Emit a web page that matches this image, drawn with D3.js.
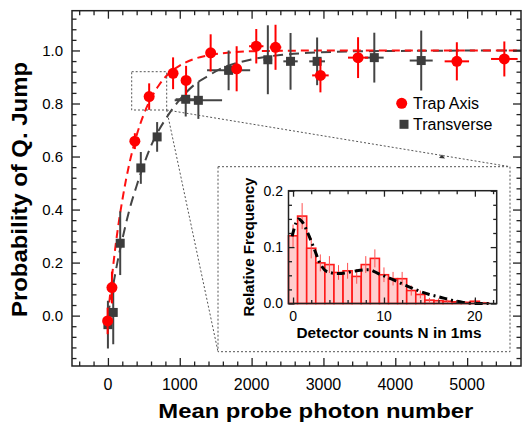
<!DOCTYPE html>
<meta charset="utf-8">
<head>
<script src="https://d3js.org/d3.v7.min.js"></script>
<style>
  body { margin: 0; background: #fff; }
  text { font-family: "Liberation Sans", Arial, sans-serif; fill: #000; }
</style>
</head>
<body>
<svg id="chart" width="524" height="426"></svg>
<script>

// ---- main plot data : probability of quantum jump vs mean probe photon number
var trapX    = [-4, 56, 375, 574, 907, 1088, 1430, 1792, 2065, 2333, 2958, 3482, 4857, 5518];
var trapY    = [-0.02, 0.106, 0.658, 0.826, 0.914, 0.887, 0.991, 0.931, 1.016, 1.012, 0.906, 0.973, 0.959, 0.968];
var trapErrY = [0.05, 0.06, 0.03, 0.05, 0.06, 0.055, 0.07, 0.085, 0.065, 0.085, 0.064, 0.077, 0.072, 0.066];
var trapErrX = [0, 20, 0, 0, 0, 0, 60, 0, 100, 80, 115, 140, 170, 185];

var transX    = [0, 74, 171, 458, 685, 1083, 1259, 1680, 2226, 2542, 2912, 3708, 4361];
var transY    = [-0.034, 0.012, 0.273, 0.557, 0.674, 0.816, 0.812, 0.925, 0.965, 0.959, 0.959, 0.973, 0.962];
var transErrY = [0.09, 0.12, 0.12, 0.06, 0.056, 0.065, 0.07, 0.075, 0.13, 0.107, 0.09, 0.094, 0.113];
var transErrX = [30, 20, 20, 30, 40, 140, 330, 300, 60, 100, 110, 130, 160];

// fit curves
var trapFitX  = [0, 50, 100, 150, 200, 250, 300, 400, 500, 600, 700, 800, 900, 1000, 1200, 1400, 1700, 2000, 2500, 3000, 4000, 5750];
var trapFitY  = [0, 0.13, 0.25, 0.35, 0.435, 0.51, 0.575, 0.68, 0.76, 0.82, 0.865, 0.9, 0.925, 0.943, 0.968, 0.982, 0.992, 0.997, 0.999, 1.0, 1.0, 1.0];
var transFitX = [0, 50, 100, 150, 200, 300, 400, 500, 600, 700, 800, 900, 1000, 1200, 1400, 1600, 1800, 2000, 2400, 2800, 3500, 4500, 5750];
var transFitY = [0, 0.08, 0.155, 0.225, 0.287, 0.4, 0.49, 0.57, 0.64, 0.695, 0.74, 0.78, 0.815, 0.87, 0.905, 0.935, 0.953, 0.966, 0.983, 0.991, 0.997, 0.999, 1.0];

var xTicks = [0, 1000, 2000, 3000, 4000, 5000];
var yTicks = [0.0, 0.2, 0.4, 0.6, 0.8, 1.0];

// ---- inset data : histogram of detector counts
var histN    = d3.range(0, 22);
var histFreq = [0.12, 0.155, 0.098, 0.072, 0.069, 0.055, 0.058, 0.048, 0.069, 0.08, 0.051, 0.044, 0.044, 0.023, 0.016, 0.006, 0.005, 0.004, 0.003, 0.002, 0.004, 0.001];
var histErr  = [0.02, 0.023, 0.018, 0.015, 0.015, 0.013, 0.014, 0.013, 0.015, 0.016, 0.013, 0.012, 0.012, 0.009, 0.007, 0.004, 0.004, 0.003, 0.003, 0.002, 0.003, 0.002];
var histFitX = [-0.1, 0.3, 0.6, 1.0, 1.7, 2.3, 3.0, 3.8, 5, 6, 7, 8.3, 9.5, 10.6, 12.4, 13.9, 15, 16, 17.4, 18.7, 20, 21.5];
var histFitY = [0.119, 0.142, 0.15, 0.145, 0.122, 0.098, 0.07, 0.056, 0.053, 0.055, 0.058, 0.06, 0.052, 0.045, 0.032, 0.022, 0.016, 0.012, 0.006, 0.002, 0.0, 0.0];
var insetXTicks = [0, 10, 20];
var insetYTicks = [0.0, 0.1, 0.2];

var svg = d3.select("#chart");
var AXIS = "#222";

// main scales
var x = d3.scaleLinear().domain([-500, 5750]).range([72, 521]);
var y = d3.scaleLinear().domain([-0.19, 1.15]).range([366, 10.7]);

// inset scales
var ix = d3.scaleLinear().domain([-0.5, 22.4]).range([288.5, 496.7]);
var iy = d3.scaleLinear().domain([0, 0.2]).range([303.5, 190.7]);

// draws inward ticks on all four sides plus a frame
function frame(xs, ys, xMaj, xMin, yMaj, yMin, big, small) {
  var g = svg.append("g");
  var x0 = xs.range()[0], x1 = xs.range()[1], y0 = ys.range()[0], y1 = ys.range()[1];

  var sides = [
    [d3.axisBottom, xs, "translate(0," + y0 + ")", xMaj, xMin],
    [d3.axisTop,    xs, "translate(0," + y1 + ")", xMaj, xMin],
    [d3.axisLeft,   ys, "translate(" + x0 + ",0)", yMaj, yMin],
    [d3.axisRight,  ys, "translate(" + x1 + ",0)", yMaj, yMin]
  ];
  sides.forEach(function(s) {
    g.append("g").attr("transform", s[2])
      .call(s[0](s[1]).tickValues(s[3]).tickSize(-big).tickFormat(""));
    g.append("g").attr("transform", s[2])
      .call(s[0](s[1]).tickValues(s[4]).tickSize(-small).tickFormat(""));
  });
  g.selectAll(".domain").remove();
  g.selectAll("line").attr("stroke", AXIS).attr("stroke-width", 1.3);

  g.append("rect")
    .attr("x", x0).attr("y", y1)
    .attr("width", x1 - x0).attr("height", y0 - y1)
    .attr("fill", "none").attr("stroke", AXIS).attr("stroke-width", 1.5);
  return g;
}

// ---------- main plot ----------
var xMinor = d3.range(-2, 29).map(function(i) { return i * 200; }).filter(function(v) { return v % 1000 !== 0; });
var yMinor = d3.range(-4, 29).filter(function(i) { return i % 5 !== 0; }).map(function(i) { return i * 0.04; });

// fit curves
var line = d3.line().x(function(d) { return x(d[0]); }).y(function(d) { return y(d[1]); }).curve(d3.curveMonotoneX);

svg.append("path")
  .datum(d3.zip(transFitX, transFitY))
  .attr("d", line)
  .attr("fill", "none")
  .attr("stroke", "#444")
  .attr("stroke-width", 2)
  .attr("stroke-dasharray", "10,6");

svg.append("path")
  .datum(d3.zip(trapFitX, trapFitY))
  .attr("d", line)
  .attr("fill", "none")
  .attr("stroke", "#ff1010")
  .attr("stroke-width", 2)
  .attr("stroke-dasharray", "8,5");

// error bars + markers
function errBars(xs, ys, ex, ey, col) {
  var g = svg.append("g").attr("stroke", col).attr("stroke-width", 2);
  xs.forEach(function(v, i) {
    g.append("line")
      .attr("x1", x(v)).attr("x2", x(v))
      .attr("y1", y(ys[i] - ey[i])).attr("y2", y(ys[i] + ey[i]));
    if (ex[i] > 0) {
      g.append("line")
        .attr("x1", x(v - ex[i])).attr("x2", x(v + ex[i]))
        .attr("y1", y(ys[i])).attr("y2", y(ys[i]));
    }
  });
}

errBars(transX, transY, transErrX, transErrY, "#444");
svg.append("g").selectAll("rect")
  .data(d3.zip(transX, transY))
  .enter().append("rect")
  .attr("x", function(d) { return x(d[0]) - 4.5; })
  .attr("y", function(d) { return y(d[1]) - 4.5; })
  .attr("width", 9).attr("height", 9)
  .attr("fill", "#3c3c3c");

errBars(trapX, trapY, trapErrX, trapErrY, "#ff0000");
svg.append("g").selectAll("circle")
  .data(d3.zip(trapX, trapY))
  .enter().append("circle")
  .attr("cx", function(d) { return x(d[0]); })
  .attr("cy", function(d) { return y(d[1]); })
  .attr("r", 5.5)
  .attr("fill", "#ff0000");

frame(x, y, xTicks, xMinor, yTicks, yMinor, 8, 4.5);

// tick labels
svg.append("g").selectAll("text")
  .data(xTicks).enter().append("text")
  .attr("x", function(d) { return x(d); })
  .attr("y", 389.5)
  .attr("text-anchor", "middle")
  .style("font-size", "16px")
  .text(function(d) { return d; });

svg.append("g").selectAll("text")
  .data(yTicks).enter().append("text")
  .attr("x", 63)
  .attr("y", function(d) { return y(d); })
  .attr("dy", "0.35em")
  .attr("text-anchor", "end")
  .style("font-size", "15px")
  .text(d3.format(".1f"));

// axis titles
svg.append("text")
  .attr("x", 315.8).attr("y", 418)
  .attr("text-anchor", "middle")
  .attr("textLength", 315).attr("lengthAdjust", "spacingAndGlyphs")
  .style("font-size", "21px").style("font-weight", "bold")
  .text("Mean probe photon number");

svg.append("text")
  .attr("transform", "translate(27,189.5) rotate(-90)")
  .attr("text-anchor", "middle")
  .attr("textLength", 255).attr("lengthAdjust", "spacingAndGlyphs")
  .style("font-size", "22px").style("font-weight", "bold")
  .text("Probability of Q. Jump");

// legend
svg.append("circle").attr("cx", 401.7).attr("cy", 103.3).attr("r", 5.5).attr("fill", "#ff0000");
svg.append("rect").attr("x", 399.5).attr("y", 119.8).attr("width", 9).attr("height", 9).attr("fill", "#3c3c3c");
svg.append("text").attr("x", 413).attr("y", 109).style("font-size", "16px").text("Trap Axis");
svg.append("text").attr("x", 413).attr("y", 130).style("font-size", "16px").text("Transverse");

// ---------- zoom box and connectors ----------
var dot = { stroke: "#555", "stroke-width": 1, "stroke-dasharray": "2,2", fill: "none" };
function dotted(sel) { for (var k in dot) sel.attr(k, dot[k]); return sel; }

var box = { x0: 131.7, y0: 71.7, x1: 166.7, y1: 110 };
var ins = { x0: 218, y0: 166.7, x1: 510, y1: 351.7 };

dotted(svg.append("rect").attr("x", box.x0).attr("y", box.y0).attr("width", box.x1 - box.x0).attr("height", box.y1 - box.y0));
dotted(svg.append("line").attr("x1", box.x1).attr("y1", box.y1).attr("x2", ins.x0).attr("y2", ins.y1));
dotted(svg.append("line").attr("x1", box.x1).attr("y1", box.y1).attr("x2", ins.x1).attr("y2", ins.y0));
svg.append("path").attr("d", "M439,158 L442,154.5 L445,158.5 Z").attr("fill", "#333");
dotted(svg.append("rect").attr("x", ins.x0).attr("y", ins.y0).attr("width", ins.x1 - ins.x0).attr("height", ins.y1 - ins.y0))
  .attr("fill", "#fff");

// ---------- inset ----------
var bars = svg.append("g");
bars.selectAll("rect")
  .data(d3.zip(histN, histFreq))
  .enter().append("rect")
  .attr("x", function(d) { return ix(d[0] - 0.5); })
  .attr("y", function(d) { return iy(d[1]); })
  .attr("width", function(d) { return ix(d[0] + 0.5) - ix(d[0] - 0.5); })
  .attr("height", function(d) { return iy(0) - iy(d[1]); })
  .attr("fill", "#ffcfcf")
  .attr("stroke", "#ff1a1a")
  .attr("stroke-width", 1.6);

bars.selectAll("line")
  .data(histN)
  .enter().append("line")
  .attr("x1", function(d) { return ix(d); }).attr("x2", function(d) { return ix(d); })
  .attr("y1", function(d, i) { return iy(Math.max(0, histFreq[i] - histErr[i])); })
  .attr("y2", function(d, i) { return iy(histFreq[i] + histErr[i]); })
  .attr("stroke", "#ff5050")
  .attr("stroke-width", 1);

var iline = d3.line().x(function(d) { return ix(d[0]); }).y(function(d) { return iy(d[1]); }).curve(d3.curveMonotoneX);
svg.append("path")
  .datum(d3.zip(histFitX, histFitY))
  .attr("d", iline)
  .attr("fill", "none")
  .attr("stroke", "#000")
  .attr("stroke-width", 3)
  .attr("stroke-dasharray", "8,4,2,4");

var ixMinor = [2, 4, 6, 8, 12, 14, 16, 18, 22];
var iyMinor = [0.025, 0.05, 0.075, 0.125, 0.15, 0.175];
frame(ix, iy, insetXTicks, ixMinor, insetYTicks, iyMinor, 6, 3.5);

svg.append("g").selectAll("text")
  .data(insetXTicks).enter().append("text")
  .attr("x", function(d) { return ix(d); })
  .attr("y", 321)
  .attr("text-anchor", "middle")
  .style("font-size", "14px")
  .text(function(d) { return d; });

svg.append("g").selectAll("text")
  .data(insetYTicks).enter().append("text")
  .attr("x", 283)
  .attr("y", function(d) { return iy(d); })
  .attr("dy", "0.35em")
  .attr("text-anchor", "end")
  .style("font-size", "14px")
  .text(d3.format(".1f"));

svg.append("text")
  .attr("x", 389).attr("y", 337.5)
  .attr("text-anchor", "middle")
  .attr("textLength", 185).attr("lengthAdjust", "spacingAndGlyphs")
  .style("font-size", "14px").style("font-weight", "bold")
  .text("Detector counts N in 1ms");

svg.append("text")
  .attr("transform", "translate(254,247) rotate(-90)")
  .attr("text-anchor", "middle")
  .attr("textLength", 139).attr("lengthAdjust", "spacingAndGlyphs")
  .style("font-size", "15px").style("font-weight", "bold")
  .text("Relative Frequency");

</script>
</body>
</html>
